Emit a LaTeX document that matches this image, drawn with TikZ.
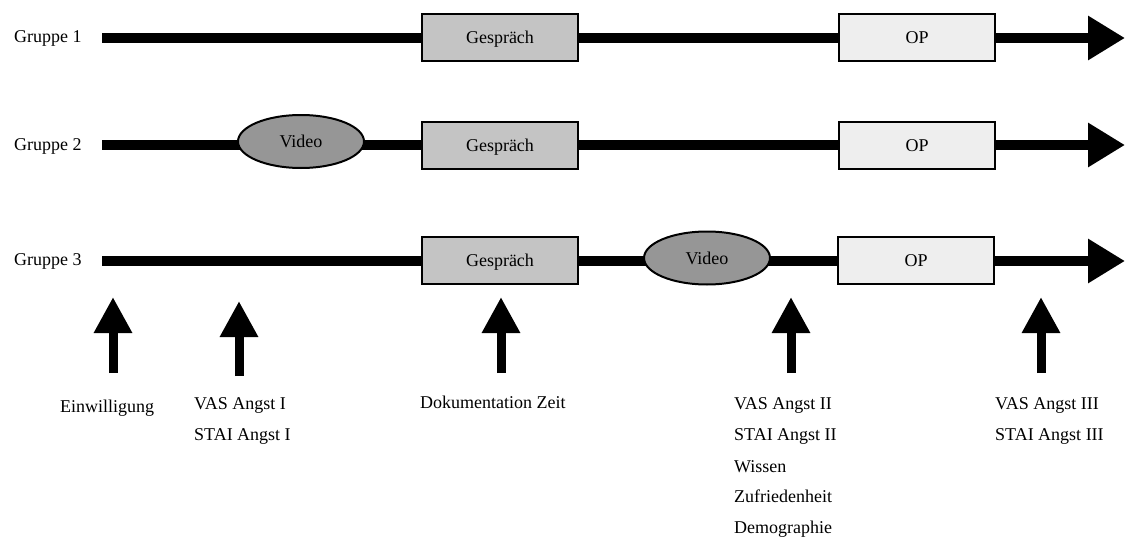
\documentclass[tikz,border=0pt]{standalone}
\usepackage{fontspec}
\setmainfont{Liberation Serif}
\usetikzlibrary{arrows.meta,shapes.geometric}
\definecolor{gesgray}{RGB}{196,196,196}
\definecolor{opgray}{RGB}{238,238,238}
\definecolor{vidgray}{RGB}{150,150,150}
\begin{document}
\begin{tikzpicture}[x=1pt,y=-1pt,
  lbl/.style={font=\fontsize{18}{22}\selectfont, inner sep=0pt},
  gbox/.style={draw, line width=2pt, fill=gesgray, minimum width=156pt, minimum height=47pt, inner sep=0pt, text height=12pt, text depth=0pt, font=\fontsize{18}{22}\selectfont},
  opbox/.style={gbox, fill=opgray},
  vid/.style={ellipse, draw, line width=2pt, fill=vidgray, minimum width=126pt, minimum height=53pt, inner sep=0pt, text height=12pt, text depth=0pt, font=\fontsize{18}{22}\selectfont},
  tlarrow/.style={line width=10.5pt, -{Triangle[length=37pt,width=42pt]}},
  uparrow/.style={line width=9pt, -{Triangle[length=36pt,width=36pt]}}
]
\useasboundingbox (0,0) rectangle (1125,543);

% timelines
\coordinate (s1) at (102,38);   \coordinate (e1) at (1125,38);
\coordinate (s2) at (102,145);  \coordinate (e2) at (1125,145);
\coordinate (s3) at (102,261);  \coordinate (e3) at (1125,261);
\draw[tlarrow] (s1) -- (e1);
\draw[tlarrow] (s2) -- (e2);
\draw[tlarrow] (s3) -- (e3);

% group labels
\node[lbl, anchor=base west] (lg1) at (14,43) {Gruppe 1};
\node[lbl, anchor=base west] (lg2) at (14,150) {Gruppe 2};
\node[lbl, anchor=base west] (lg3) at (14,265) {Gruppe 3};

% row 1
\node[gbox] (g1) at (500,37.5) {Gespräch};
\node[opbox] (o1) at (917,37.5) {OP};
% row 2
\node[vid] (v2) at (301,141.5) {Video};
\node[gbox] (g2) at (500,145.5) {Gespräch};
\node[opbox] (o2) at (917,145.5) {OP};
% row 3
\node[gbox] (g3) at (500,260.5) {Gespräch};
\node[vid] (v3) at (707,258) {Video};
\node[opbox] (o3) at (916,260.5) {OP};

% up arrows
\coordinate (b1) at (113,373); \coordinate (t1) at (113,297);
\coordinate (b2) at (239,376); \coordinate (t2) at (239,301);
\coordinate (b3) at (501,373); \coordinate (t3) at (501,297);
\coordinate (b4) at (791,373); \coordinate (t4) at (791,297);
\coordinate (b5) at (1041,373); \coordinate (t5) at (1041,297);
\draw[uparrow] (b1) -- (t1);
\draw[uparrow] (b2) -- (t2);
\draw[uparrow] (b3) -- (t3);
\draw[uparrow] (b4) -- (t4);
\draw[uparrow] (b5) -- (t5);

% labels
\node[lbl, anchor=base west] (m1) at (60,412) {Einwilligung};
\node[lbl, anchor=base west] (m2a) at (194,409) {VAS Angst I};
\node[lbl, anchor=base west] (m2b) at (194,440) {STAI Angst I};
\node[lbl, anchor=base west] (m3) at (420,408) {Dokumentation Zeit};
\node[lbl, anchor=base west] (m4a) at (734,409) {VAS Angst II};
\node[lbl, anchor=base west] (m4b) at (734,440) {STAI Angst II};
\node[lbl, anchor=base west] (m4c) at (734,472) {Wissen};
\node[lbl, anchor=base west] (m4d) at (734,502) {Zufriedenheit};
\node[lbl, anchor=base west] (m4e) at (734,533) {Demographie};
\node[lbl, anchor=base west] (m5a) at (995,409) {VAS Angst III};
\node[lbl, anchor=base west] (m5b) at (995,440) {STAI Angst III};
\end{tikzpicture}
\end{document}
